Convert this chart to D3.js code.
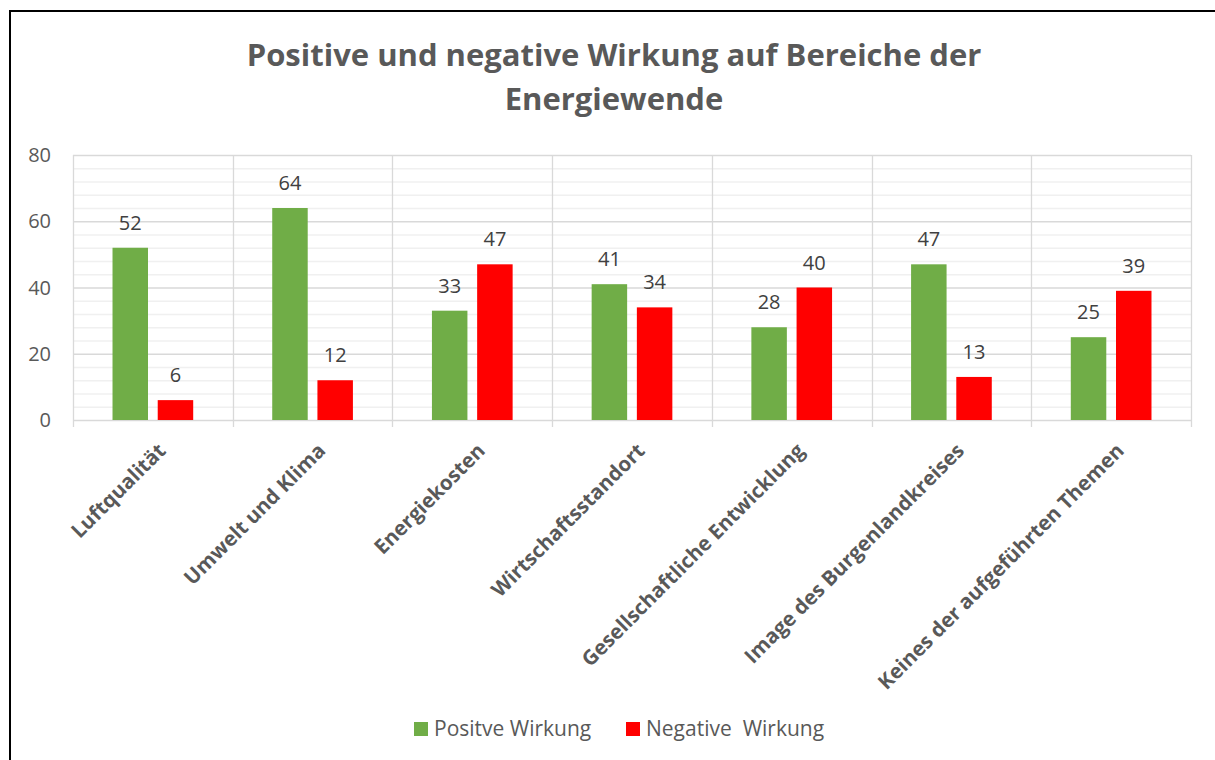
<!DOCTYPE html>
<html>
<head>
<meta charset="utf-8">
<script src="https://cdn.jsdelivr.net/npm/d3@7"></script>
<style>
  body { margin: 0; background: #fff; }
  svg { display: block; font-family: "Open Sans", sans-serif; }
</style>
</head>
<body>
<svg id="chart" width="1215" height="760"></svg>
<script>
// chart data
const categories = ["Luftqualität", "Umwelt und Klima", "Energiekosten", "Wirtschaftsstandort",
  "Gesellschaftliche Entwicklung", "Image des Burgenlandkreises", "Keines der aufgeführten Themen"];
const seriesNames = ["Positve Wirkung", "Negative  Wirkung"];
const positiveValues = [52, 64, 33, 41, 28, 47, 25];
const negativeValues = [6, 12, 47, 34, 40, 13, 39];
const yTicks = [0, 20, 40, 60, 80];
const titleLines = ["Positive und negative Wirkung auf Bereiche der", "Energiewende"];

const colors = ["#70ad47", "#ff0000"];
const textColor = "#595959";

const svg = d3.select("#chart");

// outer frame (runs off the right and bottom edges)
svg.append("rect")
  .attr("x", 10).attr("y", 11)
  .attr("width", 1300).attr("height", 900)
  .attr("fill", "none")
  .attr("stroke", "#000")
  .attr("stroke-width", 2);

const plot = { left: 73, right: 1191, top: 155, bottom: 420 };

const x0 = d3.scaleBand()
  .domain(categories)
  .range([plot.left, plot.right])
  .padding(0);

const x1 = d3.scaleBand()
  .domain(seriesNames)
  .range([0, x0.bandwidth()])
  .paddingInner(0.215)
  .paddingOuter(0.874);

const y = d3.scaleLinear()
  .domain([0, 80])
  .range([plot.bottom, plot.top]);

// minor gridlines
svg.append("g")
  .selectAll("line")
  .data(d3.range(0, 81, 4).filter(v => v % 20 !== 0))
  .join("line")
  .attr("x1", plot.left).attr("x2", plot.right)
  .attr("y1", d => y(d) + 0.5).attr("y2", d => y(d) + 0.5)
  .attr("stroke", "#f0f0f0")
  .attr("stroke-width", 1.3);

// major gridlines
svg.append("g")
  .selectAll("line")
  .data(yTicks)
  .join("line")
  .attr("x1", plot.left).attr("x2", plot.right)
  .attr("y1", d => y(d) + 0.5).attr("y2", d => y(d) + 0.5)
  .attr("stroke", "#d9d9d9")
  .attr("stroke-width", 1.3);

// vertical category separators with ticks below the axis
const bounds = categories.map(c => x0(c)).concat([plot.right]);
svg.append("g")
  .selectAll("line")
  .data(bounds)
  .join("line")
  .attr("x1", d => Math.round(d) + 0.5).attr("x2", d => Math.round(d) + 0.5)
  .attr("y1", plot.top).attr("y2", plot.bottom + 7)
  .attr("stroke", "#d9d9d9")
  .attr("stroke-width", 1.3);

// y axis labels
svg.append("g")
  .selectAll("text")
  .data(yTicks)
  .join("text")
  .attr("x", 51)
  .attr("y", d => y(d))
  .attr("dy", "0.35em")
  .attr("text-anchor", "end")
  .attr("fill", textColor)
  .style("font-size", "20px")
  .text(d => d);

// bars
const rows = categories.map((c, i) => ({ cat: c, values: [positiveValues[i], negativeValues[i]] }));

const groups = svg.append("g")
  .selectAll("g")
  .data(rows)
  .join("g")
  .attr("transform", d => `translate(${x0(d.cat)},0)`);

groups.selectAll("rect")
  .data(d => d.values.map((v, i) => ({ key: seriesNames[i], value: v, i })))
  .join("rect")
  .attr("x", d => x1(d.key))
  .attr("y", d => y(d.value))
  .attr("width", x1.bandwidth())
  .attr("height", d => y(0) - y(d.value))
  .attr("fill", d => colors[d.i]);

// data labels
groups.selectAll("text")
  .data(d => d.values.map((v, i) => ({ key: seriesNames[i], value: v })))
  .join("text")
  .attr("x", d => x1(d.key) + x1.bandwidth() / 2)
  .attr("y", d => y(d.value) - 18)
  .attr("text-anchor", "middle")
  .attr("fill", "#404040")
  .style("font-size", "20px")
  .text(d => d.value);

// rotated category labels
svg.append("g")
  .selectAll("text")
  .data(categories)
  .join("text")
  .attr("transform", d => `translate(${x0(d) + x0.bandwidth() / 2 + 9},447) rotate(-45)`)
  .attr("dy", "0.35em")
  .attr("text-anchor", "end")
  .attr("fill", textColor)
  .style("font-size", "20.5px")
  .style("font-weight", "bold")
  .text(d => d);

// title
svg.append("g")
  .selectAll("text")
  .data(titleLines)
  .join("text")
  .attr("x", 614)
  .attr("y", (d, i) => 66 + i * 44)
  .attr("text-anchor", "middle")
  .attr("fill", textColor)
  .style("font-size", "31px")
  .style("font-weight", "bold")
  .text(d => d);

// legend
const legend = svg.append("g");
const legendX = [414, 626];
seriesNames.forEach((name, i) => {
  legend.append("rect")
    .attr("x", legendX[i]).attr("y", 722)
    .attr("width", 14).attr("height", 14)
    .attr("fill", colors[i]);
  legend.append("text")
    .attr("x", legendX[i] + 20).attr("y", 729)
    .attr("dy", "0.35em")
    .attr("fill", textColor)
    .style("font-size", "21px")
    .style("white-space", "pre")
    .attr("xml:space", "preserve")
    .text(name);
});
</script>
</body>
</html>
